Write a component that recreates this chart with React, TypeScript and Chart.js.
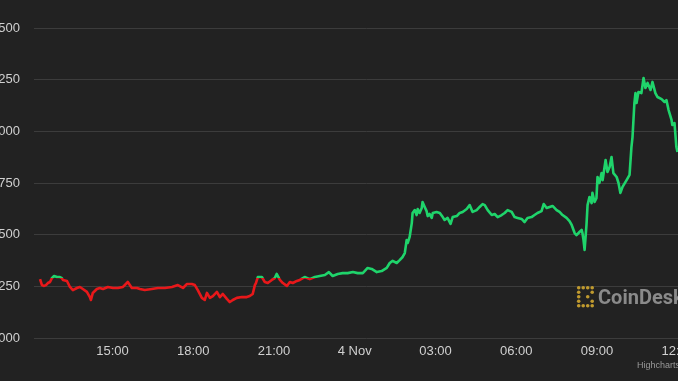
import React, { useEffect, useRef } from "react";
import { Chart, registerables } from "chart.js";

Chart.register(...registerables);

// Time in hours since 00:00 on 3 Nov (24 = 4 Nov 00:00)
const HOURS: number[] = [
  12.31, 12.38, 12.46, 12.53, 12.6, 12.68, 12.75, 12.83, 12.94, 13.05, 13.12, 13.16, 13.31, 13.42, 13.53, 13.68, 13.79, 13.9, 14.05, 14.16, 14.2, 14.27, 14.42, 14.53, 14.65, 14.83, 15.02, 15.2, 15.39, 15.57, 15.72, 15.91, 16.02, 16.2,
  16.46, 16.69, 16.95, 17.21, 17.43, 17.62, 17.76, 17.95, 18.06, 18.17, 18.32, 18.43, 18.51, 18.62, 18.73, 18.88, 18.99, 19.1, 19.25, 19.36, 19.47, 19.62, 19.81, 19.99, 20.1, 20.21, 20.29, 20.33,
  20.4, 20.55, 20.66, 20.77, 20.92, 21.03, 21.1, 21.22, 21.33, 21.48, 21.59, 21.7, 21.85, 21.96, 22.14, 22.33, 22.52, 22.7, 22.89, 23.04, 23.18, 23.37, 23.55, 23.74, 23.93, 24.11, 24.3, 24.48, 24.63, 24.82, 25.0, 25.19,
  25.3, 25.41, 25.56, 25.67, 25.78, 25.86, 25.93, 25.97, 26.04, 26.12, 26.15, 26.23, 26.3, 26.34, 26.41, 26.49, 26.52, 26.6, 26.67, 26.71, 26.78, 26.86, 26.9, 27.04, 27.16, 27.27, 27.34, 27.45, 27.56, 27.64, 27.79, 27.9, 28.01, 28.16, 28.27, 28.38, 28.53, 28.64, 28.75,
  28.83, 28.94, 29.09, 29.2, 29.31, 29.46, 29.57, 29.68, 29.83, 29.94, 30.05, 30.2, 30.31, 30.42, 30.57, 30.68, 30.79, 30.94, 31.02, 31.13, 31.24, 31.35, 31.5, 31.61, 31.72, 31.87, 31.98, 32.06, 32.17, 32.24, 32.35, 32.43, 32.46,
  32.5, 32.54, 32.61, 32.65, 32.72, 32.8, 32.83, 32.91, 32.98, 33.02, 33.09, 33.17, 33.21, 33.32, 33.39, 33.47, 33.54, 33.61, 33.73, 33.8, 33.87, 33.95, 34.1, 34.21, 34.28, 34.32, 34.39, 34.43, 34.47, 34.54, 34.65, 34.73, 34.8, 34.88, 34.99, 35.06, 35.17, 35.25, 35.4, 35.51, 35.58, 35.66, 35.77, 35.8, 35.88, 35.95, 35.99,
];

const PRICES: number[] = [
  20285, 20256, 20252, 20256, 20266, 20271, 20290, 20300, 20295, 20295, 20290, 20281, 20276, 20247, 20232, 20242, 20247, 20237, 20223, 20198, 20184, 20218, 20237, 20242, 20237, 20247, 20242, 20242, 20247, 20271, 20242, 20242, 20237, 20232,
  20237, 20242, 20242, 20247, 20256, 20242, 20261, 20261, 20256, 20232, 20194, 20184, 20218, 20194, 20203, 20223, 20198, 20213, 20189, 20174, 20184, 20194, 20198, 20198, 20203, 20213, 20256, 20266,
  20295, 20295, 20271, 20266, 20281, 20290, 20310, 20281, 20266, 20252, 20271, 20266, 20276, 20281, 20295, 20285, 20295, 20300, 20305, 20319, 20300, 20310, 20314, 20314, 20319, 20314, 20314, 20339, 20334, 20319, 20324, 20339,
  20363, 20373, 20363, 20377, 20392, 20411, 20474, 20460, 20489, 20556, 20605, 20619, 20595, 20624, 20605, 20629, 20658, 20634, 20614, 20590, 20600, 20581, 20605, 20610, 20605, 20585, 20571, 20581, 20552, 20585, 20590, 20605, 20610, 20624, 20643, 20610, 20619, 20634, 20648,
  20643, 20619, 20595, 20600, 20585, 20595, 20605, 20619, 20610, 20585, 20581, 20576, 20561, 20581, 20585, 20595, 20605, 20614, 20648, 20629, 20634, 20639, 20619, 20610, 20595, 20581, 20566, 20547, 20508, 20498, 20513, 20523, 20508,
  20474, 20426, 20547, 20643, 20682, 20653, 20702, 20658, 20677, 20779, 20750, 20798, 20764, 20861, 20803, 20827, 20876, 20798, 20779, 20750, 20702, 20731, 20764, 20789, 20924, 20972, 21137, 21185, 21137, 21190, 21185, 21258, 21210, 21234, 21200, 21239, 21185, 21166, 21156, 21142, 21151, 21103, 21055, 21031, 21040, 20924, 20900,
];

const Y_TICKS: number[] = [20000, 20250, 20500, 20750, 21000, 21250, 21500];
const X_TICKS: number[] = [15, 18, 21, 24, 27, 30, 33, 36];
const X_LABELS: string[] = ["15:00", "18:00", "21:00", "4 Nov", "03:00", "06:00", "09:00", "12:00"];
const THRESHOLD = 20288;

const X_MIN = 12.085;
const X_MAX = 36.806;
const Y_MIN = 20000;
const Y_MAX = 21500;

const GREEN = "#1fd46b";
const RED = "#e8181a";
const BG = "#222222";
const FONT = "'Liberation Sans', Arial, sans-serif";

const CANVAS_W = 740;
const CANVAS_H = 381;
const SHIFT = 40;

const overlayPlugin = {
  id: "overlay",
  afterDatasetsDraw(chart: any) {
    const ctx = chart.ctx as CanvasRenderingContext2D;
    ctx.save();
    // CoinDesk watermark
    const ix = 577 + SHIFT;
    const iy = 286;
    const s = 4.5;
    const cells: [number, number][] = [
      [0, 0], [1, 0], [2, 0], [3, 0],
      [0, 1], [3, 1],
      [0, 2], [2, 2],
      [0, 3], [3, 3],
      [0, 4], [1, 4], [2, 4], [3, 4],
    ];
    ctx.fillStyle = "#c09a2e";
    for (const [cx, cy] of cells) {
      ctx.beginPath();
      ctx.arc(ix + cx * s + 1.7, iy + cy * s + 1.7, 1.8, 0, Math.PI * 2);
      ctx.fill();
    }
    ctx.fillStyle = "#8a8a8a";
    ctx.font = `bold 20px Roboto, ${FONT}`;
    ctx.textAlign = "left";
    ctx.textBaseline = "alphabetic";
    ctx.fillText("CoinDesk", 598 + SHIFT, 304);
    // credits
    ctx.fillStyle = "#999999";
    ctx.font = `9px ${FONT}`;
    ctx.textBaseline = "middle";
    ctx.fillText("Highcharts.com", 637 + SHIFT, 366);
    ctx.restore();
  },
};

export default function App() {
  const ref = useRef<HTMLCanvasElement | null>(null);

  useEffect(() => {
    if (!ref.current) return;
    const n = Math.min(HOURS.length, PRICES.length);
    const points = [];
    for (let i = 0; i < n; i++) points.push({ x: HOURS[i], y: PRICES[i] });

    const chart = new Chart(ref.current, {
      type: "line",
      data: {
        datasets: [
          {
            data: points,
            borderWidth: 2.6,
            pointRadius: 0,
            tension: 0,
            fill: false,
            borderJoinStyle: "round",
            borderColor: (c: any) => {
              const ch = c.chart;
              const { ctx, chartArea, scales } = ch;
              if (!chartArea) return GREEN;
              const yT = scales.y.getPixelForValue(THRESHOLD);
              const g = ctx.createLinearGradient(0, chartArea.top, 0, chartArea.bottom);
              let r = (yT - chartArea.top) / (chartArea.bottom - chartArea.top);
              r = Math.min(Math.max(r, 0), 1);
              g.addColorStop(0, GREEN);
              g.addColorStop(r, GREEN);
              g.addColorStop(r, RED);
              g.addColorStop(1, RED);
              return g;
            },
          },
        ],
      },
      options: {
        animation: false,
        responsive: false,
        maintainAspectRatio: false,
        layout: { padding: { top: 28, left: 0, right: 0, bottom: 0 } },
        plugins: {
          legend: { display: false },
          tooltip: { enabled: false },
          title: { display: false },
        },
        scales: {
          x: {
            type: "linear",
            min: X_MIN,
            max: X_MAX,
            afterBuildTicks: (s: any) => {
              s.ticks = X_TICKS.map((v) => ({ value: v }));
            },
            afterFit: (s: any) => {
              s.height = 43;
            },
            grid: { display: false, drawTicks: false },
            border: { display: false },
            ticks: {
              autoSkip: false,
              maxRotation: 0,
              padding: 6,
              color: "#d0d0d0",
              font: { family: FONT, size: 13 },
              callback: (v: any) => {
                const i = X_TICKS.indexOf(Number(v));
                return i >= 0 ? X_LABELS[i] : "";
              },
            },
          },
          y: {
            type: "linear",
            min: Y_MIN,
            max: Y_MAX,
            afterBuildTicks: (s: any) => {
              s.ticks = Y_TICKS.map((v) => ({ value: v }));
            },
            afterFit: (s: any) => {
              s.width = 74;
            },
            grid: { color: "#3c3c3c", lineWidth: 1, drawTicks: false },
            border: { display: false },
            ticks: {
              padding: 14,
              color: "#d0d0d0",
              font: { family: FONT, size: 13 },
              callback: (v: any) => Number(v).toLocaleString("en-US"),
            },
          },
        },
      },
      plugins: [overlayPlugin],
    });
    return () => chart.destroy();
  }, []);

  return (
    <div
      style={{
        position: "fixed",
        left: 0,
        top: 0,
        width: 678,
        height: 381,
        overflow: "hidden",
        background: BG,
      }}
    >
      <canvas
        ref={ref}
        width={CANVAS_W}
        height={CANVAS_H}
        style={{ position: "absolute", left: -SHIFT, top: 0, width: CANVAS_W, height: CANVAS_H }}
      />
    </div>
  );
}
